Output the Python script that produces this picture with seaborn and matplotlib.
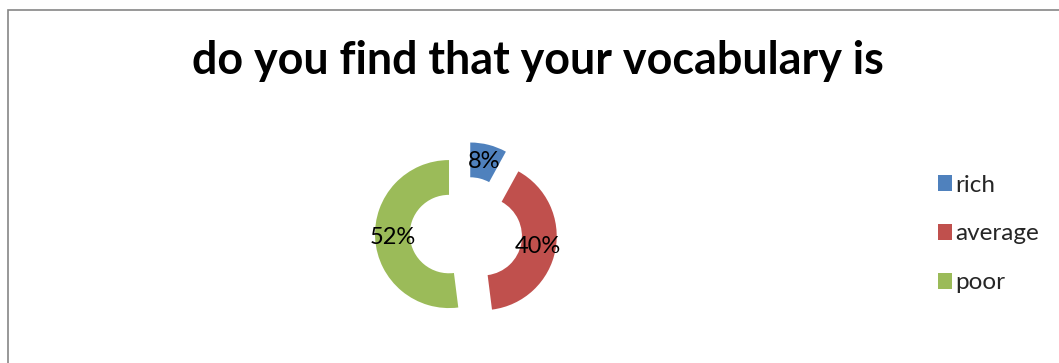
import matplotlib
matplotlib.use("Agg")
import matplotlib.pyplot as plt
import seaborn as sns
from matplotlib.patches import Rectangle, Patch

# Survey answers
categories = ["rich", "average", "poor"]
shares = [8, 40, 52]
colors = ["#4F81BD", "#C0504D", "#9BBB59"]
title = "do you find that your vocabulary is"

sns.set_theme(style="white")
plt.rcParams["font.family"] = ["Lato", "DejaVu Sans"]

W, H = 1059, 363
fig = plt.figure(figsize=(W / 100, H / 100), dpi=100)

# chart frame
fig.patches.append(Rectangle((8 / W, -0.2), 1.2, (H - 10) / H + 0.2,
                             transform=fig.transFigure, fill=False,
                             edgecolor="#868686", linewidth=1.2))

fig.text(538 / W, 1 - 61 / H, title, ha="center", va="center",
         fontsize=32.3, fontweight="bold", color="black")

# donut axes: 74 px per data unit, centre at (466, 233) px
R = 74.0
cx, cy = 466, 233
half = 100
ax = fig.add_axes([(cx - half) / W, (H - cy - half) / H, 2 * half / W, 2 * half / H])

wedges, _, autotexts = ax.pie(
    shares, colors=colors, startangle=90, counterclock=False,
    explode=[0.23, 0.23, 0.23], radius=1.0,
    wedgeprops=dict(width=0.47, edgecolor="none"),
    autopct="%.0f%%", pctdistance=0.765,
    textprops=dict(fontsize=17, color="black"),
    frame=True,
)
ax.set_xlim(-half / R, half / R)
ax.set_ylim(-half / R, half / R)
ax.axis("off")

handles = [Patch(facecolor=c, edgecolor="none") for c in colors]
fig.legend(handles, categories, loc="center left",
           bbox_to_anchor=(916 / W, 1 - 234 / H), frameon=False,
           fontsize=17.5, handlelength=0.6, handleheight=0.6,
           handletextpad=0.12, labelspacing=1.15)

fig.savefig("out.png", dpi=100)
